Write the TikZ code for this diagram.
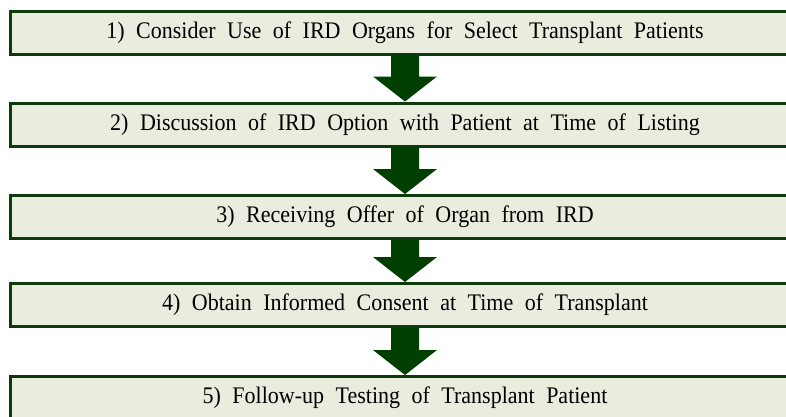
\documentclass[tikz,border=0pt]{standalone}
\usepackage{fontspec}
\usepackage{graphicx}
\setmainfont{Liberation Serif}
\definecolor{boxfill}{HTML}{EAEDDD}
\definecolor{boxline}{HTML}{0C3A0C}
\definecolor{arrowfill}{HTML}{003F00}
\newcommand{\steptext}[1]{\scalebox{1}[1.08]{\fontsize{22}{26}\selectfont\spaceskip=11.5pt #1}}
\tikzset{
	stepbox/.style={draw=boxline,fill=boxfill,line width=3pt,minimum width=790pt,minimum height=43pt,inner sep=0pt},
	flowarrow/.style={fill=arrowfill}
}
\newcommand{\flowarr}[2]{%
	\fill[flowarrow] ($(#1.south)+(-14pt,0)$) -- ($(#1.south)+(14pt,0)$)
		-- ($(#2.north)+(14pt,25pt)$) -- ($(#2.north)+(32pt,25pt)$)
		-- (#2.north) -- ($(#2.north)+(-32pt,25pt)$)
		-- ($(#2.north)+(-14pt,25pt)$) -- cycle;}
\usetikzlibrary{calc}
\begin{document}
\begin{tikzpicture}[x=1pt,y=-1pt]
			\useasboundingbox (0,0) rectangle (786,416);
			\clip (0,0) rectangle (786,416);
			\node[stepbox] (consider) at (405,32.5) {\steptext{1) Consider Use of IRD Organs for Select Transplant Patients}};
			\node[stepbox] (discuss) at (405,124.5) {\steptext{2) Discussion of IRD Option with Patient at Time of Listing}};
			\node[stepbox] (offer) at (405,217) {\steptext{3) Receiving Offer of Organ from IRD}};
			\node[stepbox] (consent) at (405,305) {\steptext{4) Obtain Informed Consent at Time of Transplant}};
			\node[stepbox] (followup) at (405,398) {\steptext{5) Follow-up Testing of Transplant Patient}};
			\flowarr{consider}{discuss}
			\flowarr{discuss}{offer}
			\flowarr{offer}{consent}
			\flowarr{consent}{followup}
\end{tikzpicture}
\end{document}
